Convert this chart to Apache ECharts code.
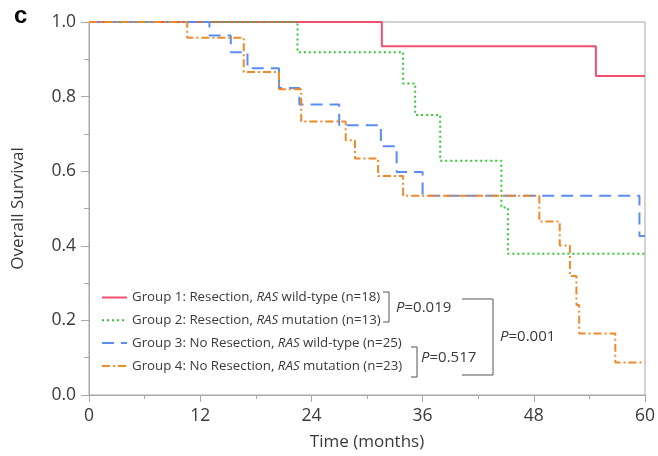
<!DOCTYPE html>
<html>
<head>
    <meta charset="utf-8">
    <script src="https://cdn.jsdelivr.net/npm/echarts@6/dist/echarts.min.js"></script>
    <style>
        html, body { margin: 0; padding: 0; background: #fff; }
    </style>
</head>
<body>
    <div id="main" style="width: 658px; height: 456px"></div>
    <script type="text/javascript">
        // Kaplan-Meier steps (time in months, survival)
        var g1Time = [0, 31.6, 54.7, 60];
        var g1Surv = [1, 0.935, 0.855, 0.855];
        var g2Time = [0, 22.5, 33.9, 35.2, 37.9, 44.5, 45.2, 60];
        var g2Surv = [1, 0.919, 0.835, 0.751, 0.628, 0.503, 0.379, 0.379];
        var g3Time = [0, 13.0, 15.3, 17.1, 20.5, 22.7, 27.0, 31.5, 33.2, 36.0, 59.4, 60];
        var g3Surv = [1, 0.964, 0.919, 0.876, 0.823, 0.779, 0.723, 0.667, 0.598, 0.534, 0.426, 0.426];
        var g4Time = [0, 10.6, 16.7, 20.5, 22.9, 27.7, 28.7, 31.2, 33.9, 48.6, 50.8, 51.9, 52.6, 52.9, 56.8, 60];
        var g4Surv = [1, 0.958, 0.866, 0.820, 0.733, 0.683, 0.634, 0.587, 0.534, 0.465, 0.401, 0.319, 0.241, 0.165, 0.087, 0.087];

        var groupNames = ['Group 1', 'Group 2', 'Group 3', 'Group 4'];
        var groupLabels = [
            ['Group 1: Resection, ', 'RAS', ' wild-type (n=18)'],
            ['Group 2: Resection, ', 'RAS', ' mutation (n=13)'],
            ['Group 3: No Resection, ', 'RAS', ' wild-type (n=25)'],
            ['Group 4: No Resection, ', 'RAS', ' mutation (n=23)']
        ];
        var pValues = ['0.019', '0.517', '0.001'];
        var xTicks = [0, 12, 24, 36, 48, 60];

        var font = 'Open Sans';
        var axisGray = '#a8a8a8';
        var textCol = '#3a3a3a';

        function pairs(t, s) {
            var out = [];
            for (var i = 0; i < t.length; i++) out.push([t[i], s[i]]);
            return out;
        }

        function makeSeries(name, t, s, color, type) {
            return {
                name: name,
                type: 'line',
                step: 'end',
                symbol: 'none',
                data: pairs(t, s),
                lineStyle: { color: color, width: 2, type: type },
                itemStyle: { color: color },
                z: 3
            };
        }

        var myChart = echarts.init(document.getElementById('main'));

        var serie = [
            makeSeries(groupNames[0], g1Time, g1Surv, '#f0506e', 'solid'),
            makeSeries(groupNames[1], g2Time, g2Surv, '#33c833', [2, 3]),
            makeSeries(groupNames[2], g3Time, g3Surv, '#5a8dee', [12, 7]),
            makeSeries(groupNames[3], g4Time, g4Surv, '#ef8a2b', [8, 3, 2, 3])
        ];

        var labelMap = {};
        groupNames.forEach(function (n, i) {
            var p = groupLabels[i];
            labelMap[n] = '{n|' + p[0] + '}{i|' + p[1] + '}{n|' + p[2] + '}';
        });

        function bracket(x1, y1, x2, y2) {
            return {
                type: 'polyline',
                shape: { points: [[x1, y1], [x2, y1], [x2, y2], [x1, y2]] },
                style: { stroke: '#555', lineWidth: 1, fill: null }
            };
        }

        function pText(x, y, val) {
            return {
                type: 'text',
                x: x, y: y,
                style: {
                    text: '{i|P}{n|=' + val + '}',
                    verticalAlign: 'middle',
                    rich: {
                        i: { fontFamily: font, fontSize: 15, fontStyle: 'italic', fill: textCol },
                        n: { fontFamily: font, fontSize: 15, fill: textCol }
                    }
                }
            };
        }

        var option = {
            animation: false,
            backgroundColor: '#fff',
            grid: {
                left: 89, right: 11, top: 22, bottom: 59,
                show: true, borderColor: axisGray, borderWidth: 1
            },
            xAxis: {
                type: 'value',
                min: 0, max: 60, interval: 12,
                name: 'Time (months)',
                nameLocation: 'middle',
                nameGap: 39,
                nameTextStyle: { fontFamily: font, fontSize: 17, color: textCol },
                axisLine: { lineStyle: { color: axisGray } },
                axisTick: { inside: false, length: 7, lineStyle: { color: axisGray } },
                minorTick: { show: true, splitNumber: 2, length: 4, lineStyle: { color: axisGray } },
                splitLine: { show: false },
                axisLabel: {
                    fontFamily: font, fontSize: 17.5, color: textCol, margin: 12,
                    customValues: xTicks
                }
            },
            yAxis: {
                type: 'value',
                min: 0, max: 1, interval: 0.2,
                name: 'Overall Survival',
                nameLocation: 'middle',
                nameGap: 62,
                nameTextStyle: { fontFamily: font, fontSize: 17, color: textCol },
                axisLine: { show: true, lineStyle: { color: axisGray } },
                axisTick: { show: true, length: 8, lineStyle: { color: axisGray } },
                minorTick: { show: true, splitNumber: 2, length: 5, lineStyle: { color: axisGray } },
                splitLine: { show: false },
                axisLabel: {
                    fontFamily: font, fontSize: 17.5, color: textCol, margin: 13,
                    formatter: function (v) { return v.toFixed(1); }
                }
            },
            legend: {
                orient: 'vertical',
                left: 101, top: 291,
                padding: 0,
                itemWidth: 25, itemHeight: 14, itemGap: 9.8,
                itemStyle: { opacity: 0 },
                data: groupNames,
                formatter: function (n) { return labelMap[n]; },
                textStyle: {
                    rich: {
                        n: { fontFamily: font, fontSize: 13.3, color: textCol },
                        i: { fontFamily: font, fontSize: 13.3, fontStyle: 'italic', color: textCol }
                    }
                }
            },
            graphic: [
                { type: 'text', left: 14, top: 4, style: { text: 'c', fontFamily: 'Liberation Sans', fontWeight: 'bold', fontSize: 24, fill: '#000' } },
                bracket(383, 292, 389, 322),
                pText(396, 308, pValues[0]),
                bracket(411, 347, 417, 377),
                pText(421, 358, pValues[1]),
                bracket(462, 299, 493, 375),
                pText(500, 337, pValues[2])
            ],
            series: serie
        };
        myChart.setOption(option);
    </script>
</body>
</html>
